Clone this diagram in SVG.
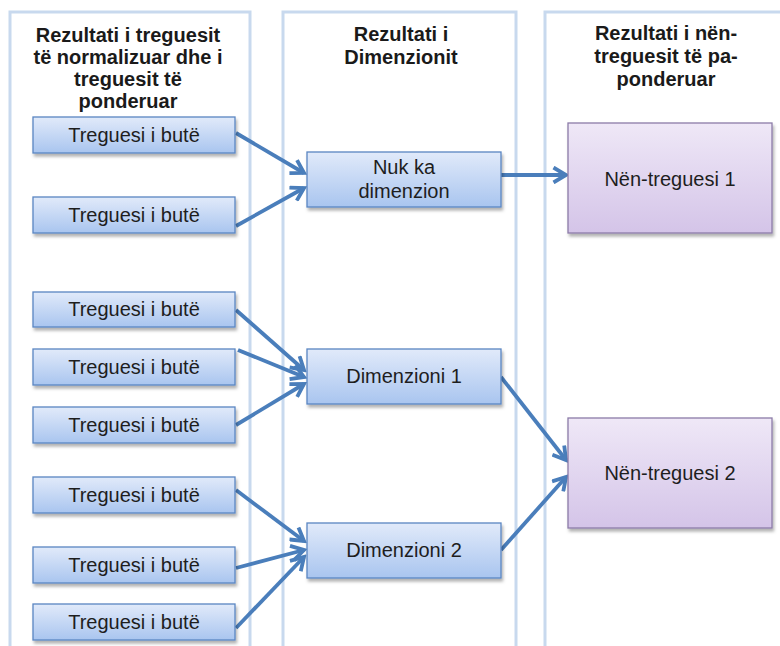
<svg xmlns="http://www.w3.org/2000/svg" width="780" height="646" viewBox="0 0 780 646">
  <defs>
    <linearGradient id="gBlue" x1="0" y1="0" x2="0" y2="1">
      <stop offset="0" stop-color="#e1eafa"/>
      <stop offset="1" stop-color="#a9c5ef"/>
    </linearGradient>
    <linearGradient id="gPurple" x1="0" y1="0" x2="0" y2="1">
      <stop offset="0" stop-color="#efe8f7"/>
      <stop offset="1" stop-color="#d4c4e8"/>
    </linearGradient>
    <filter id="shadow" x="-10%" y="-20%" width="125%" height="150%">
      <feDropShadow dx="1.5" dy="3" stdDeviation="1.8" flood-color="#000" flood-opacity="0.3"/>
    </filter>
    <marker id="arrow" viewBox="0 0 18 18" refX="14.5" refY="9" markerWidth="18" markerHeight="18" markerUnits="userSpaceOnUse" orient="auto">
      <path d="M2,1.5 L14.5,9 L2,16.5" fill="none" stroke="#4a7ebb" stroke-width="3.8" stroke-linejoin="miter" stroke-linecap="butt"/>
    </marker>
    <style>
      .panel { fill: #ffffff; stroke: #c8d9ee; stroke-width: 3; }
      .hdr { font-family: "Liberation Sans", Arial, sans-serif; font-weight: bold; font-size: 20px; fill: #1a1a1a; text-anchor: middle; }
      .blue { fill: url(#gBlue); stroke: #5a86c2; stroke-width: 1.3; filter: url(#shadow); }
      .purple { fill: url(#gPurple); stroke: #8c7ba8; stroke-width: 1.3; filter: url(#shadow); }
      .lbl { font-family: "Liberation Sans", Arial, sans-serif; font-size: 20px; fill: #1e1e1e; text-anchor: middle; }
      .conn { fill: none; stroke: #4a7ebb; stroke-width: 3.8; marker-end: url(#arrow); }
    </style>
  </defs>

  <rect width="780" height="646" fill="#ffffff"/>

  <g id="panels">
    <rect class="panel" x="10" y="12" width="240" height="660"/>
    <rect class="panel" x="283" y="12" width="233" height="660"/>
    <rect class="panel" x="545" y="12" width="260" height="660"/>
    <text class="hdr" x="128" y="42">Rezultati i treguesit</text>
    <text class="hdr" x="128" y="64">të normalizuar dhe i</text>
    <text class="hdr" x="128" y="86">treguesit të</text>
    <text class="hdr" x="128" y="108">ponderuar</text>
    <text class="hdr" x="401" y="41">Rezultati i</text>
    <text class="hdr" x="401" y="64">Dimenzionit</text>
    <text class="hdr" x="666" y="40">Rezultati i nën-</text>
    <text class="hdr" x="666" y="63">treguesit të pa-</text>
    <text class="hdr" x="666" y="86">ponderuar</text>
  </g>

  <g id="connectors">
    <path class="conn" d="M236,133 L304,173"/>
    <path class="conn" d="M236,226 L304,188"/>
    <path class="conn" d="M236,310 L304,370"/>
    <path class="conn" d="M238,350 L304,377"/>
    <path class="conn" d="M236,425 L304,384"/>
    <path class="conn" d="M236,490 L304,541"/>
    <path class="conn" d="M236,568 L304,550"/>
    <path class="conn" d="M236,628 L304,557"/>
    <path class="conn" d="M501,175 L566,175"/>
    <path class="conn" d="M501,377 L566,460"/>
    <path class="conn" d="M501,550 L566,477"/>
  </g>

  <g id="n1"><rect class="blue" x="33" y="117" width="202" height="36"/><text class="lbl" x="134" y="142">Treguesi i butë</text></g>
  <g id="n2"><rect class="blue" x="33" y="197" width="202" height="36"/><text class="lbl" x="134" y="222">Treguesi i butë</text></g>
  <g id="n3"><rect class="blue" x="33" y="292" width="202" height="35"/><text class="lbl" x="134" y="316">Treguesi i butë</text></g>
  <g id="n4"><rect class="blue" x="33" y="349" width="202" height="36"/><text class="lbl" x="134" y="374">Treguesi i butë</text></g>
  <g id="n5"><rect class="blue" x="33" y="407" width="202" height="36"/><text class="lbl" x="134" y="432">Treguesi i butë</text></g>
  <g id="n6"><rect class="blue" x="33" y="477" width="202" height="36"/><text class="lbl" x="134" y="502">Treguesi i butë</text></g>
  <g id="n7"><rect class="blue" x="33" y="547" width="202" height="36"/><text class="lbl" x="134" y="572">Treguesi i butë</text></g>
  <g id="n8"><rect class="blue" x="33" y="604" width="202" height="36"/><text class="lbl" x="134" y="629">Treguesi i butë</text></g>

  <g id="d0"><rect class="blue" x="307" y="152" width="194" height="55"/><text class="lbl" x="404" y="174">Nuk ka</text><text class="lbl" x="404" y="198">dimenzion</text></g>
  <g id="d1"><rect class="blue" x="307" y="349" width="194" height="55"/><text class="lbl" x="404" y="383">Dimenzioni 1</text></g>
  <g id="d2"><rect class="blue" x="307" y="523" width="194" height="55"/><text class="lbl" x="404" y="557">Dimenzioni 2</text></g>

  <g id="s1"><rect class="purple" x="568" y="123" width="204" height="110"/><text class="lbl" x="670" y="186">Nën-treguesi 1</text></g>
  <g id="s2"><rect class="purple" x="568" y="418" width="204" height="110"/><text class="lbl" x="670" y="480">Nën-treguesi 2</text></g>
</svg>
